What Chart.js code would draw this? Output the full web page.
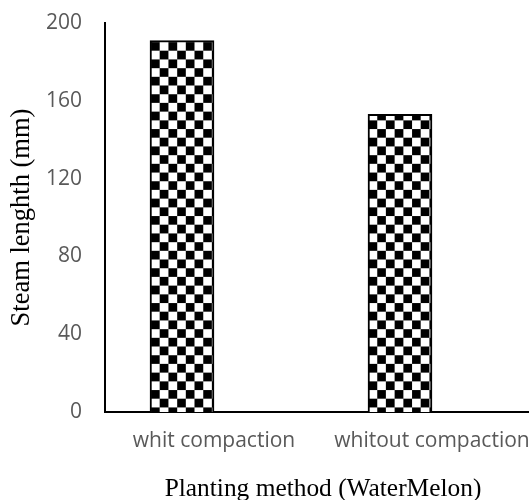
<!DOCTYPE html>
<html>
<head>
<meta charset="utf-8">
<script src="https://cdn.jsdelivr.net/npm/chart.js@4.4.1/dist/chart.umd.min.js"></script>
<style>
    html, body { margin: 0; padding: 0; background: #fff; overflow: hidden; }
    #wrap { position: relative; width: 545px; height: 500px; }
</style>
</head>
<body>
<div id="wrap"><canvas id="barChart"></canvas></div>
<script>
    const categories = ['whit compaction', 'whitout compaction'];
    const stemLength = [191, 153];
    // second (empty) series, like the source sheet, keeps the bars left of the label
    const emptySeries = [null, null];
    const yTicks = [0, 40, 80, 120, 160, 200];

    function checkerPattern() {
        const c = document.createElement('canvas');
        c.width = 16;
        c.height = 16;
        const g = c.getContext('2d');
        g.fillStyle = '#ffffff';
        g.fillRect(0, 0, 16, 16);
        g.fillStyle = '#000000';
        g.fillRect(0, 0, 8, 8);
        g.fillRect(8, 8, 8, 8);
        const p = g.createPattern(c, 'repeat');
        // squares are ~8.7px in the original
        p.setTransform(new DOMMatrix().translate(151, 42).scale(8.7 / 8));
        return p;
    }

    window.onload = () => {
        const ctx = document.getElementById('barChart');

        new Chart(ctx, {
            type: 'bar',
            data: {
                labels: categories,
                datasets: [
                    {
                        label: 'Steam lenghth',
                        data: stemLength,
                        backgroundColor: checkerPattern(),
                        borderColor: '#000000',
                        borderWidth: 2,
                        barThickness: 64,
                    },
                    {
                        label: '',
                        data: emptySeries,
                        barThickness: 64,
                    },
                ],
            },
            options: {
                responsive: true,
                maintainAspectRatio: false,
                animation: false,
                layout: {
                    padding: { top: 23, left: 0, right: 4, bottom: 0 }
                },
                plugins: {
                    legend: { display: false },
                    tooltip: { enabled: false },
                },
                scales: {
                    x: {
                        grid: { display: false, drawTicks: false },
                        border: { display: true, color: '#000000', width: 2 },
                        afterFit: (axis) => {
                            axis.height = 88;
                            axis.paddingLeft = 0;
                            axis.paddingRight = 0;
                        },
                        ticks: {
                            color: '#595959',
                            padding: 16,
                            maxRotation: 0,
                            autoSkip: false,
                            font: { family: 'Open Sans', size: 21, lineHeight: 1.2 },
                        },
                        title: {
                            display: true,
                            text: 'Planting method (WaterMelon)',
                            color: '#000000',
                            padding: { top: 0, bottom: -2 },
                            font: { family: 'Liberation Serif', size: 25.4, lineHeight: 1 },
                        },
                    },
                    y: {
                        min: 0,
                        max: 200,
                        afterBuildTicks: (axis) => {
                            axis.ticks = yTicks.map(v => ({ value: v }));
                        },
                        afterFit: (axis) => {
                            axis.width = 105;
                            axis.paddingTop = 0;
                            axis.paddingBottom = 0;
                        },
                        grid: { display: false, drawTicks: false },
                        border: { display: true, color: '#000000', width: 2 },
                        ticks: {
                            color: '#595959',
                            padding: 23,
                            font: { family: 'Open Sans', size: 21 },
                        },
                        title: {
                            display: true,
                            text: 'Steam lenghth (mm)',
                            color: '#000000',
                            padding: { top: 9, bottom: 0 },
                            font: { family: 'Liberation Serif', size: 26.5, lineHeight: 1 },
                        },
                    },
                },
            },
        });
    };
</script>
</body>
</html>
